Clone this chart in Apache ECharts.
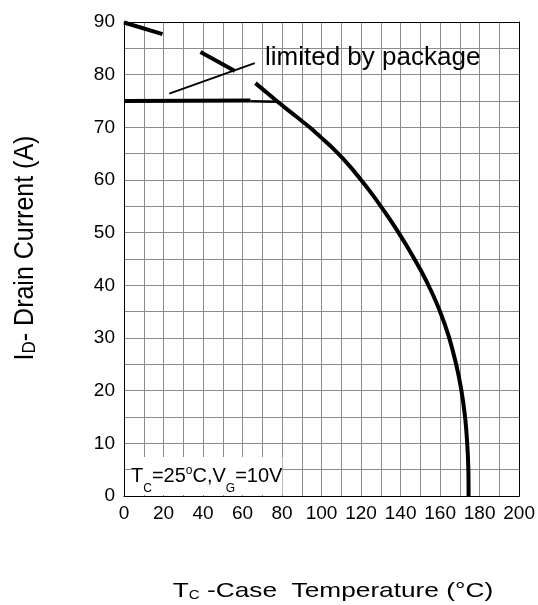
<!DOCTYPE html>
<html>
<head>
<meta charset="utf-8">
<script src="https://cdn.jsdelivr.net/npm/echarts@6/dist/echarts.min.js"></script>
<style>html,body{margin:0;padding:0;background:#fff;}#c{width:538px;height:605px;}</style>
</head>
<body>
<div id="c"></div>
<script>
// ---- data ----
const xTicks = [0, 20, 40, 60, 80, 100, 120, 140, 160, 180, 200];
const yTicks = [0, 10, 20, 30, 40, 50, 60, 70, 80, 90];

// derating curve (Tc, Id)
const curveX = [66.5, 70.0, 77.9, 85.0, 90.0, 95.0, 100.0, 105.0, 110.0, 115.0, 120.0, 125.0, 130.0, 135.0, 140.0, 145.0, 150.0, 155.0, 160.0, 164.3, 168.0, 170.7, 172.6, 173.7, 174.3, 174.4];
const curveY = [78.4, 77.3, 74.8, 72.7, 71.2, 69.7, 68.0, 66.3, 64.4, 62.3, 60.0, 57.6, 55.0, 52.3, 49.4, 46.3, 43.0, 39.3, 35.0, 30.4, 25.2, 20.2, 15.1, 10.1, 5.0, 0];

// package limit line
const limitX = [0, 64];
const limitY = [75, 75.1];
const limitTailX = [64, 77.5];
const limitTailY = [74.95, 74.85];

// short upper segments
const seg1X = [0, 19.5];
const seg1Y = [89.9, 87.7];
const seg2X = [38.7, 56.1];
const seg2Y = [84.3, 80.7];

// annotation pointer line
const pointerX = [22.9, 66.2];
const pointerY = [76.4, 82.2];

const pairs = (xs, ys) => xs.map((x, i) => [x, ys[i]]);

const FONT = 'Liberation Sans, Arial, sans-serif';
const chart = echarts.init(document.getElementById('c'));

function lineSeries(data, width, smooth) {
  return {
    type: 'line',
    data: data,
    showSymbol: false,
    silent: true,
    smooth: smooth || false,
    lineStyle: { color: '#000', width: width, cap: 'butt', join: 'round' },
    z: 5
  };
}

chart.setOption({
  animation: false,
  backgroundColor: '#fff',
  grid: { left: 124, right: 18, top: 22, bottom: 109, containLabel: false },
  xAxis: [{
    type: 'value', min: 0, max: 200, interval: 10, position: 'bottom',
    axisLine: { show: true, onZero: false, lineStyle: { color: '#000', width: 1 } },
    axisTick: { show: false },
    axisLabel: {
      fontFamily: FONT, fontSize: 19, color: '#000', margin: 8,
      formatter: v => (xTicks.indexOf(v) >= 0 ? String(v) : '')
    },
    splitLine: { show: true, lineStyle: { color: '#8c8c8c', width: 1 } }
  }, {
    type: 'value', min: 0, max: 200, interval: 10, position: 'top',
    axisLine: { show: true, onZero: false, lineStyle: { color: '#000', width: 1 } },
    axisTick: { show: false }, axisLabel: { show: false }, splitLine: { show: false }
  }],
  yAxis: [{
    type: 'value', min: 0, max: 90, interval: 5, position: 'left',
    axisLine: { show: true, onZero: false, lineStyle: { color: '#000', width: 1 } },
    axisTick: { show: false },
    axisLabel: {
      fontFamily: FONT, fontSize: 19, color: '#000', margin: 9,
      formatter: v => (yTicks.indexOf(v) >= 0 ? String(v) : '')
    },
    splitLine: { show: true, lineStyle: { color: '#8c8c8c', width: 1 } }
  }, {
    type: 'value', min: 0, max: 90, interval: 5, position: 'right',
    axisLine: { show: true, onZero: false, lineStyle: { color: '#000', width: 1 } },
    axisTick: { show: false }, axisLabel: { show: false }, splitLine: { show: false }
  }],
  series: [
    lineSeries(pairs(curveX, curveY), 4, 0.3),
    lineSeries(pairs(limitX, limitY), 4),
    lineSeries(pairs(limitTailX, limitTailY), 2.5),
    lineSeries(pairs(seg1X, seg1Y), 4),
    lineSeries(pairs(seg2X, seg2Y), 4),
    lineSeries(pairs(pointerX, pointerY), 2)
  ],
  graphic: [
    {
      type: 'text', x: 265, y: 45, z: 10,
      style: { text: 'limited by package', fontFamily: FONT, fontSize: 26, fill: '#000', align: 'left', verticalAlign: 'top' }
    },
    {
      type: 'text', x: 131, y: 457, z: 10,
      style: {
        text: '{m|T}{s|C}{m|=25}{p|o}{m|C,V}{s|G}{m|=10V}',
        fontFamily: FONT, fill: '#000', align: 'left', verticalAlign: 'top',
        backgroundColor: '#fff',
        rich: {
          m: { fontFamily: FONT, fontSize: 20, lineHeight: 38, verticalAlign: 'middle', fill: '#000' },
          s: { fontFamily: FONT, fontSize: 12, lineHeight: 12, verticalAlign: 'bottom', fill: '#000' },
          p: { fontFamily: FONT, fontSize: 12, lineHeight: 12, verticalAlign: 'top', padding: [8, 0, 0, 0], fill: '#000' }
        }
      }
    },
    {
      type: 'text', x: 333, y: 590, z: 10, scaleX: 1.25, scaleY: 1,
      style: {
        text: '{m|T}{s|C}{m| -Case  Temperature (°C)}',
        fontFamily: FONT, fill: '#000', align: 'center', verticalAlign: 'middle',
        rich: {
          m: { fontFamily: FONT, fontSize: 21, lineHeight: 24, verticalAlign: 'bottom', fill: '#000' },
          s: { fontFamily: FONT, fontSize: 12, lineHeight: 22, verticalAlign: 'bottom', fill: '#000' }
        }
      }
    },
    {
      type: 'text', x: 24, y: 248, z: 10, rotation: Math.PI / 2, scaleX: 1, scaleY: 1.1,
      style: {
        text: '{m|I}{s|D}{m|- Drain Current (A)}',
        fontFamily: FONT, fill: '#000', align: 'center', verticalAlign: 'middle',
        rich: {
          m: { fontFamily: FONT, fontSize: 25, lineHeight: 28, verticalAlign: 'bottom', fill: '#000' },
          s: { fontFamily: FONT, fontSize: 17, lineHeight: 27, verticalAlign: 'bottom', fill: '#000' }
        }
      }
    }
  ]
});
</script>
</body>
</html>
